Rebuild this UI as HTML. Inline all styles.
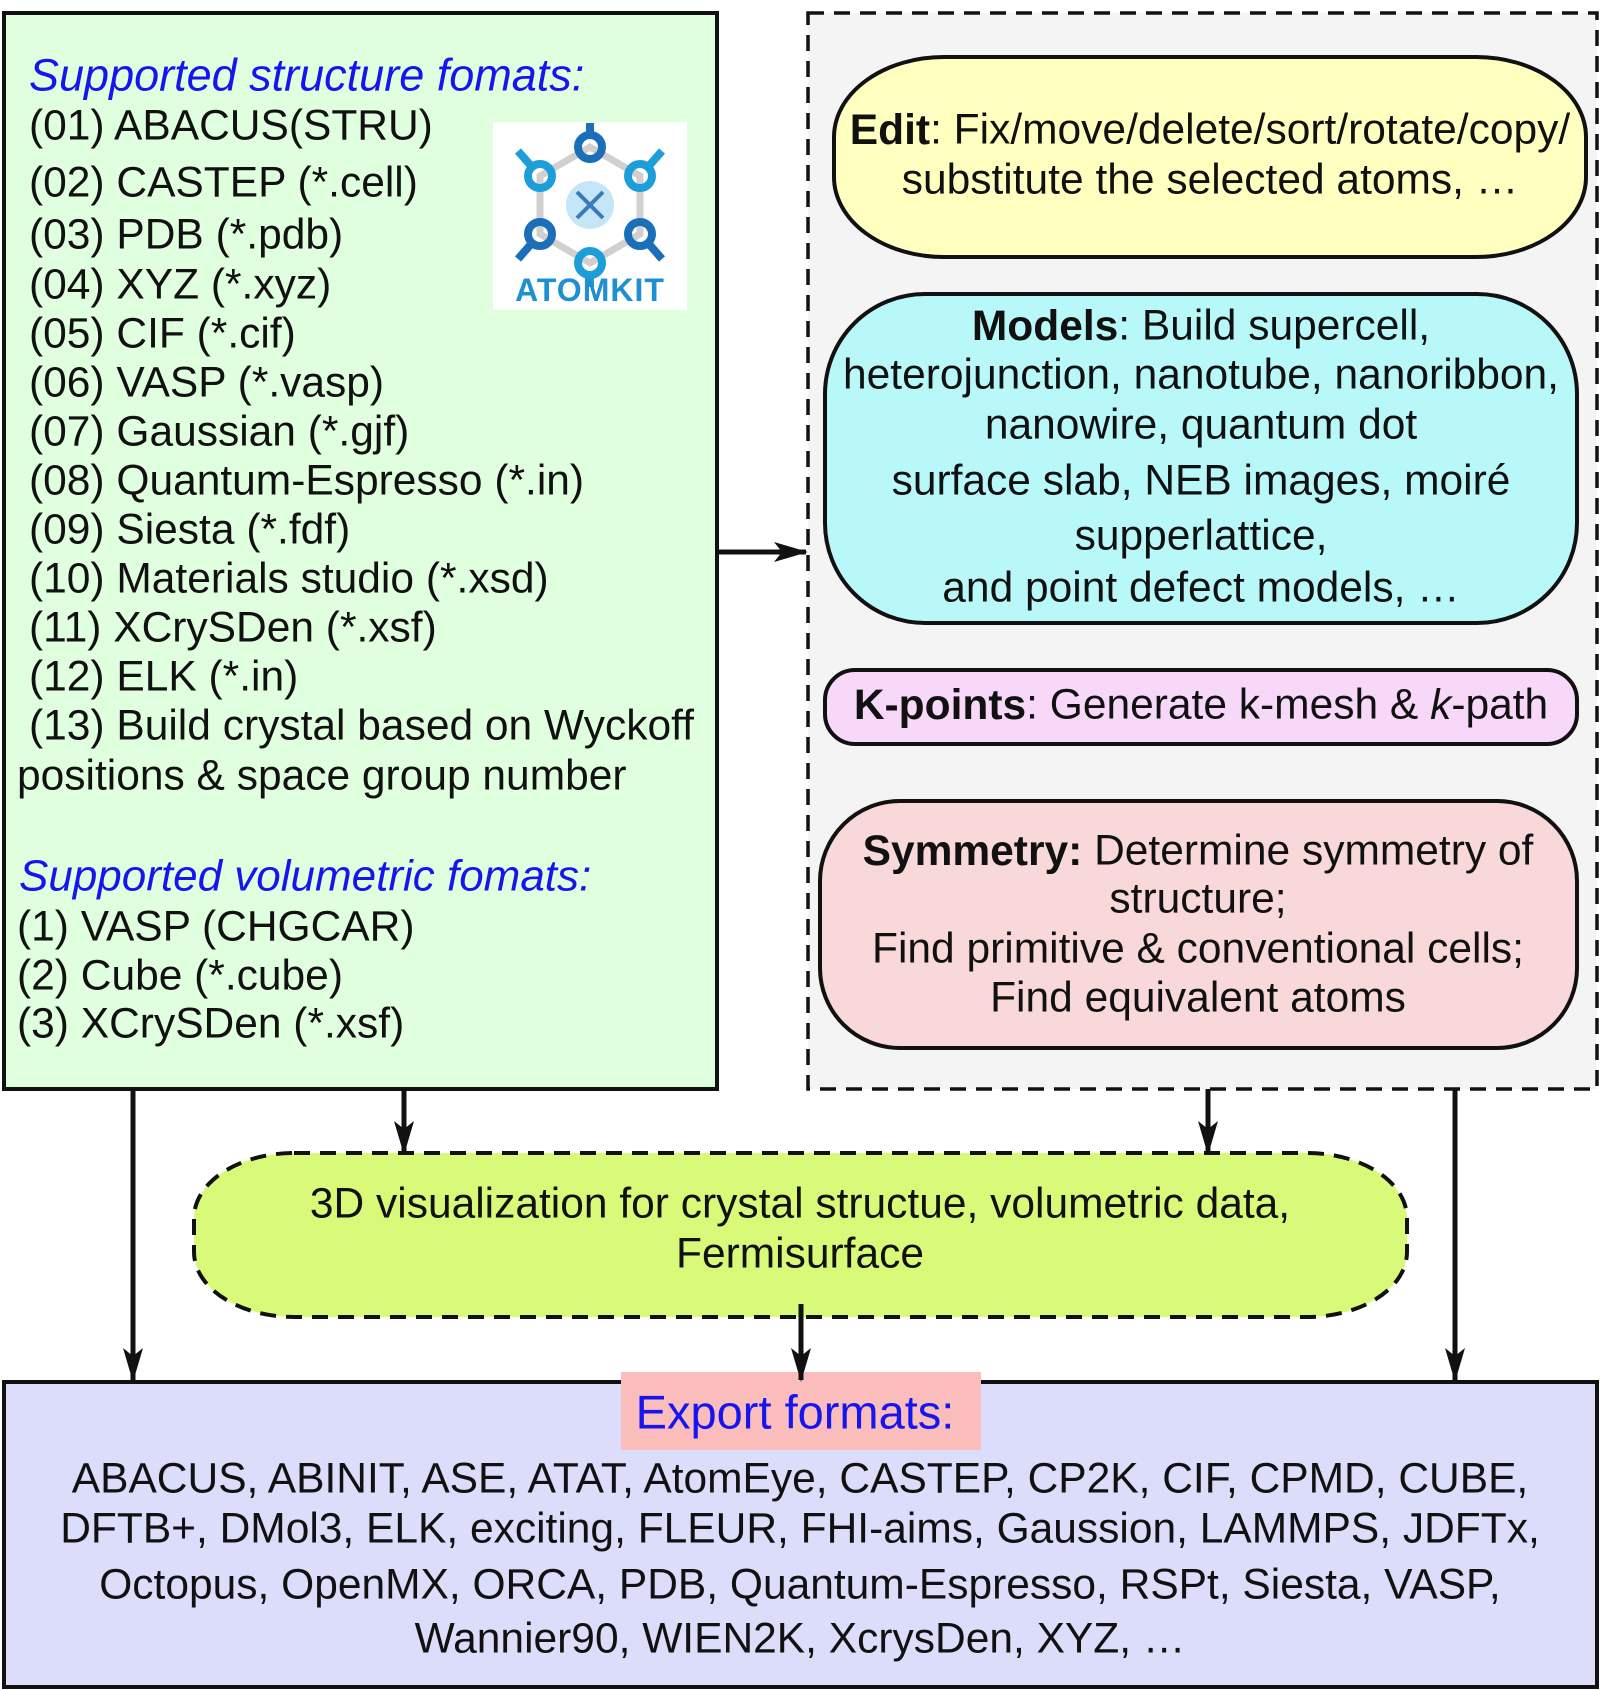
<!DOCTYPE html>
<html><head><meta charset="utf-8"><style>
html,body{margin:0;padding:0;background:#fff}
svg{display:block}
text{font-family:"Liberation Sans",Arial,sans-serif;font-size:42.5px;fill:#111}
</style></head><body>
<svg width="1600" height="1690" viewBox="0 0 1600 1690" xmlns="http://www.w3.org/2000/svg">
<defs>
<marker id="ah" markerWidth="34" markerHeight="20" refX="32" refY="10" orient="auto" markerUnits="userSpaceOnUse" viewBox="0 0 34 20">
<path d="M0,0 L34,10 L0,20 L8,10 Z" fill="#111"/>
</marker>
</defs>
<rect x="4" y="13" width="713" height="1076" fill="#dfffdf" stroke="#111" stroke-width="4"/>
<rect x="808" y="13" width="789" height="1076" fill="#f4f4f4" stroke="#111" stroke-width="3.5" stroke-dasharray="16,10"/>
<rect x="4" y="1382" width="1593" height="305" fill="#dcdcfb" stroke="#111" stroke-width="4"/>
<rect x="621" y="1372" width="360" height="78" fill="#fbbcbc"/>

<rect x="834" y="57" width="752" height="200" rx="110" ry="80" fill="#ffffc0" stroke="#111" stroke-width="4"/>
<rect x="825" y="294" width="752" height="329" rx="100" ry="100" fill="#b8f8f8" stroke="#111" stroke-width="4"/>
<rect x="825" y="670" width="752" height="74" rx="30" ry="30" fill="#f8d8f8" stroke="#111" stroke-width="4"/>
<rect x="820" y="801" width="757" height="247" rx="80" ry="80" fill="#f8d8d8" stroke="#111" stroke-width="4"/>
<rect x="194" y="1153" width="1213" height="164" rx="100" ry="65" fill="#d8fa78" stroke="#111" stroke-width="4" stroke-dasharray="16,10"/>

<g stroke="#111" stroke-width="5" fill="none">
<line x1="717" y1="552" x2="806" y2="552" marker-end="url(#ah)"/>
<line x1="133" y1="1089" x2="133" y2="1380" marker-end="url(#ah)"/>
<line x1="404" y1="1089" x2="404" y2="1153" marker-end="url(#ah)"/>
<line x1="1208" y1="1089" x2="1208" y2="1153" marker-end="url(#ah)"/>
<line x1="1455" y1="1089" x2="1455" y2="1380" marker-end="url(#ah)"/>
<line x1="801" y1="1304" x2="801" y2="1380" marker-end="url(#ah)"/>
</g>

<rect x="493" y="122" width="194" height="188" fill="#fff"/>
<g transform="translate(590,205)">
<polygon points="0,-58 50,-29 50,29 0,58 -50,29 -50,-29" fill="none" stroke="#d0d0d0" stroke-width="7"/>
<circle r="24" fill="#c4e6f6"/>
<g stroke-width="8" fill="none">
<g stroke="#1a6fb8"><circle cx="0" cy="-58" r="12"/><line x1="0" y1="-70" x2="0" y2="-82"/></g>
<g stroke="#1e9ed8"><circle cx="50" cy="-29" r="12"/><line x1="58" y1="-38" x2="72" y2="-54"/></g>
<g stroke="#1a6fb8"><circle cx="50" cy="29" r="12"/><line x1="58" y1="38" x2="72" y2="54"/></g>
<g stroke="#1e9ed8"><circle cx="0" cy="58" r="12"/><line x1="0" y1="70" x2="0" y2="82"/></g>
<g stroke="#1a6fb8"><circle cx="-50" cy="29" r="12"/><line x1="-58" y1="38" x2="-72" y2="54"/></g>
<g stroke="#1e9ed8"><circle cx="-50" cy="-29" r="12"/><line x1="-58" y1="-38" x2="-72" y2="-54"/></g>
<g stroke="#3a7ab8" stroke-width="4"><line x1="-13" y1="-13" x2="13" y2="13"/><line x1="13" y1="-13" x2="-13" y2="13"/></g>
</g>
</g>
<text x="590" y="301" text-anchor="middle" style="font-size:32px;font-weight:bold;fill:#1e8fd0;letter-spacing:1px">ATOMKIT</text>

<g dominant-baseline="central">
<text x="29" y="75" style="font-style:italic;fill:#1515f0;font-size:45px">Supported structure fomats:</text>
<text x="29" y="126">(01) ABACUS(STRU)</text>
<text x="29" y="183">(02) CASTEP (*.cell)</text>
<text x="29" y="235">(03) PDB (*.pdb)</text>
<text x="29" y="285">(04) XYZ (*.xyz)</text>
<text x="29" y="334">(05) CIF (*.cif)</text>
<text x="29" y="383">(06) VASP (*.vasp)</text>
<text x="29" y="432">(07) Gaussian (*.gjf)</text>
<text x="29" y="481">(08) Quantum-Espresso (*.in)</text>
<text x="29" y="530">(09) Siesta (*.fdf)</text>
<text x="29" y="579">(10) Materials studio (*.xsd)</text>
<text x="29" y="628">(11) XCrySDen (*.xsf)</text>
<text x="29" y="677">(12) ELK (*.in)</text>
<text x="29" y="726">(13) Build crystal based on Wyckoff</text>
<text x="17" y="776">positions &amp; space group number</text>
<text x="19" y="876" style="font-style:italic;fill:#1515f0;font-size:44px">Supported volumetric fomats:</text>
<text x="17" y="927">(1) VASP (CHGCAR)</text>
<text x="17" y="976">(2) Cube (*.cube)</text>
<text x="17" y="1024">(3) XCrySDen (*.xsf)</text>
</g>

<g dominant-baseline="central" text-anchor="middle">
<text x="1210" y="130"><tspan font-weight="bold">Edit</tspan>: Fix/move/delete/sort/rotate/copy/</text>
<text x="1210" y="180">substitute the selected atoms, …</text>
<text x="1201" y="326"><tspan font-weight="bold">Models</tspan>: Build supercell,</text>
<text x="1201" y="375">heterojunction, nanotube, nanoribbon,</text>
<text x="1201" y="425">nanowire, quantum dot</text>
<text x="1201" y="481">surface slab, NEB images, moiré</text>
<text x="1201" y="536">supperlattice,</text>
<text x="1201" y="588">and point defect models, …</text>
<text x="1201" y="705"><tspan font-weight="bold">K-points</tspan>: Generate k-mesh &amp; <tspan font-style="italic">k</tspan>-path</text>
<text x="1198" y="851"><tspan font-weight="bold">Symmetry:</tspan> Determine symmetry of</text>
<text x="1198" y="899">structure;</text>
<text x="1198" y="949">Find primitive &amp; conventional cells;</text>
<text x="1198" y="998">Find equivalent atoms</text>
<text x="800" y="1204">3D visualization for crystal structue, volumetric data,</text>
<text x="800" y="1254">Fermisurface</text>
<text x="795" y="1412" style="font-size:47px;fill:#1515f0">Export formats:</text>
<text x="800" y="1479">ABACUS, ABINIT, ASE, ATAT, AtomEye, CASTEP, CP2K, CIF, CPMD, CUBE,</text>
<text x="800" y="1529">DFTB+, DMol3, ELK, exciting, FLEUR, FHI-aims, Gaussion, LAMMPS, JDFTx,</text>
<text x="800" y="1585">Octopus, OpenMX, ORCA, PDB, Quantum-Espresso, RSPt, Siesta, VASP,</text>
<text x="800" y="1639">Wannier90, WIEN2K, XcrysDen, XYZ, …</text>
</g>
</svg>
</body></html>
